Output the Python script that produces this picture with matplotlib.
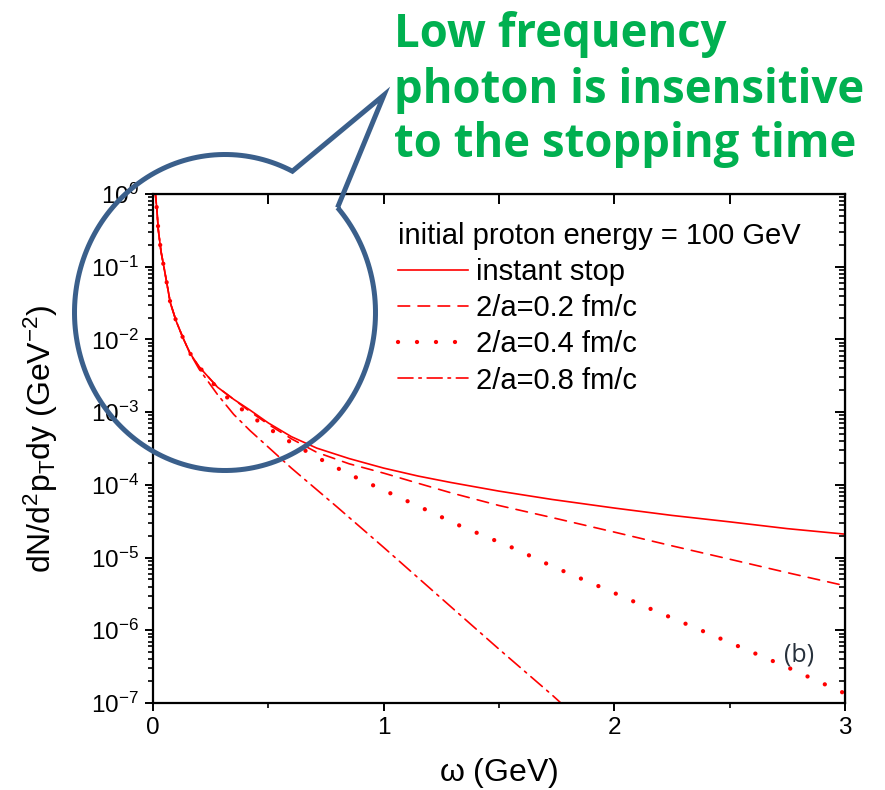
import matplotlib
matplotlib.use('Agg')
import matplotlib.pyplot as plt
import numpy as np
from matplotlib.path import Path
from matplotlib.patches import PathPatch
from matplotlib.ticker import LogLocator, NullFormatter

plt.rcParams['font.family'] = ['Liberation Sans', 'DejaVu Sans']
plt.rcParams['mathtext.fontset'] = 'custom'
plt.rcParams['mathtext.rm'] = 'Liberation Sans'
plt.rcParams['mathtext.it'] = 'Liberation Sans:italic'
plt.rcParams['mathtext.default'] = 'regular'
plt.rcParams['axes.unicode_minus'] = False

# low-omega part shared by all four curves (omega in GeV)
w_low = [0.008, 0.012, 0.017, 0.023, 0.035, 0.05, 0.075, 0.10, 0.13, 0.16]
y_low = [1.2, 0.89, 0.60, 0.32, 0.16, 0.089, 0.032, 0.018, 0.0105, 6.5e-3]

# instant stop
w_inst = [0.20, 0.28, 0.35, 0.42, 0.50, 0.60, 0.71, 0.85, 1.00, 1.15, 1.29, 1.50,
          1.73, 2.00, 2.25, 2.50, 2.75, 3.00]
y_inst = [4.2e-3, 2.2e-3, 1.5e-3, 1.07e-3, 7.1e-4, 4.6e-4, 3.2e-4, 2.3e-4, 1.7e-4,
          1.32e-4, 1.08e-4, 8.2e-5, 6.3e-5, 4.8e-5, 3.8e-5, 3.1e-5, 2.5e-5, 2.1e-5]

# 2/a = 0.2 fm/c
w_02 = [0.20, 0.28, 0.35, 0.42, 0.50, 0.60, 0.71, 0.85, 1.00, 1.15, 1.29, 1.50,
        1.73, 2.00, 2.25, 2.50, 2.75, 3.00]
y_02 = [4.2e-3, 2.2e-3, 1.5e-3, 1.02e-3, 6.8e-4, 4.3e-4, 2.8e-4, 1.95e-4, 1.45e-4,
        1.05e-4, 7.8e-5, 5.2e-5, 3.55e-5, 2.24e-5, 1.45e-5, 9.5e-6, 6.2e-6, 4.1e-6]

# 2/a = 0.4 fm/c
w_04 = [0.20, 0.28, 0.35, 0.42, 0.49, 0.60, 0.71, 0.85, 1.02, 1.18, 1.335, 1.57,
        1.73, 1.96, 2.16, 2.36, 2.55, 2.75, 3.00]
y_04 = [4.2e-3, 2.1e-3, 1.32e-3, 9.1e-4, 6.3e-4, 3.8e-4, 2.4e-4, 1.4e-4, 7.9e-5,
        4.6e-5, 2.7e-5, 1.32e-5, 7.6e-6, 3.7e-6, 1.95e-6, 1.05e-6, 5.8e-7, 3.1e-7, 1.35e-7]

# 2/a = 0.8 fm/c
w_08 = [0.20, 0.28, 0.35, 0.42, 0.60, 0.80, 1.00, 1.25, 1.50, 1.73, 1.80]
y_08 = [3.9e-3, 1.74e-3, 9.3e-4, 5.6e-4, 1.7e-4, 4.9e-5, 1.38e-5, 2.75e-6, 5.5e-7,
        1.29e-7, 8.1e-8]

labels = ['instant stop', '2/a=0.2 fm/c', '2/a=0.4 fm/c', '2/a=0.8 fm/c']
styles = ['-', (0, (7, 5)), (0, (0.01, 4.4)), (0, (9, 3.5, 1.5, 3.5))]
widths = [1.2, 1.2, 3.1, 1.2]

W, H = 885, 790
fig = plt.figure(figsize=(W / 100, H / 100), dpi=100)
ax = fig.add_axes([153 / W, 1 - 703 / H, 692 / W, 509 / H])

series = [(w_inst, y_inst), (w_02, y_02), (w_04, y_04), (w_08, y_08)]
handles = []
for (w, y), lab, ls, lw in zip(series, labels, styles, widths):
    ln, = ax.plot(w_low + w, y_low + y, color='#ff0000', lw=lw, linestyle=ls,
                  dash_capstyle='round', label=lab)
    handles.append(ln)

ax.set_yscale('log')
ax.set_xlim(0, 3)
ax.set_ylim(1e-7, 1)
ax.set_xticks([0, 1, 2, 3])
ax.set_xticks([0.5, 1.5, 2.5], minor=True)
ax.yaxis.set_major_locator(LogLocator(base=10, numticks=10))
ax.yaxis.set_minor_locator(LogLocator(base=10, subs=np.arange(2, 10), numticks=20))
ax.yaxis.set_minor_formatter(NullFormatter())
for s in ax.spines.values():
    s.set_linewidth(1.6)
ax.tick_params(which='major', direction='out', length=6, width=1.4, labelsize=17.5,
               top=False, right=False, pad=4)
ax.tick_params(which='minor', direction='out', length=3.5, width=1.2,
               top=False, right=False)

# mirrored ticks pointing inwards on top and right
top = ax.secondary_xaxis('top')
top.set_xticks(np.arange(0, 3.01, 0.5))
top.tick_params(direction='in', length=7, width=1.4, labeltop=False)
right = ax.secondary_yaxis('right')
right.yaxis.set_major_locator(LogLocator(base=10, numticks=10))
right.yaxis.set_minor_locator(LogLocator(base=10, subs=np.arange(2, 10), numticks=20))
right.tick_params(which='major', direction='in', length=7, width=1.4, labelright=False)
right.tick_params(which='minor', direction='in', length=4, width=1.2, labelright=False)

ax.set_xlabel(r'$\omega$ (GeV)', fontsize=23, labelpad=12)
ax.set_ylabel(r'dN/d$^2$p$_T$dy (GeV$^{-2}$)', fontsize=23)
ax.yaxis.set_label_coords(-0.134, 0.52)

leg = ax.legend(handles=handles, title='initial proton energy = 100 GeV',
                loc='upper left', bbox_to_anchor=(0.354, 0.945), frameon=False,
                fontsize=21, title_fontsize=21, handlelength=2.4,
                handletextpad=0.28, labelspacing=0.28, alignment='left',
                borderpad=0, borderaxespad=0)

ax.text(2.80, 4.6e-7, '(b)', fontsize=18, color='#27313c', ha='center',
        va='center', family='Open Sans')

# callout bubble drawn in figure pixels
def to_fig(x, y):
    return x / W, 1 - y / H

cx, cy, rx, ry = 225, 312.5, 150.5, 158
t = np.radians(np.linspace(-41.6, 296.6, 200))
pts = [to_fig(cx + rx * np.cos(a), cy + ry * np.sin(a)) for a in t]
pts.append(to_fig(384, 95))
pts.append(pts[0])
codes = [Path.MOVETO] + [Path.LINETO] * (len(pts) - 1)
bubble = PathPatch(Path(pts, codes), transform=fig.transFigure, fill=False,
                   edgecolor='#3a5f8b', lw=3.6, joinstyle='miter', zorder=10)
fig.patches.append(bubble)

green = '#00b050'
for txt, yb in [('Low frequency', 47), ('photon is insensitive', 103),
                ('to the stopping time', 157)]:
    fig.text(394 / W, 1 - yb / H, txt, color=green, fontsize=32.8, fontweight='bold',
             family='Open Sans', va='baseline', ha='left')

# bottom of the slide title that is cut off at the top edge
fig.text(108 / W, 1 + 27 / H, 'pping', fontsize=58, color='black',
         family='Open Sans', va='baseline', ha='left')

fig.savefig('out.png', dpi=100)
